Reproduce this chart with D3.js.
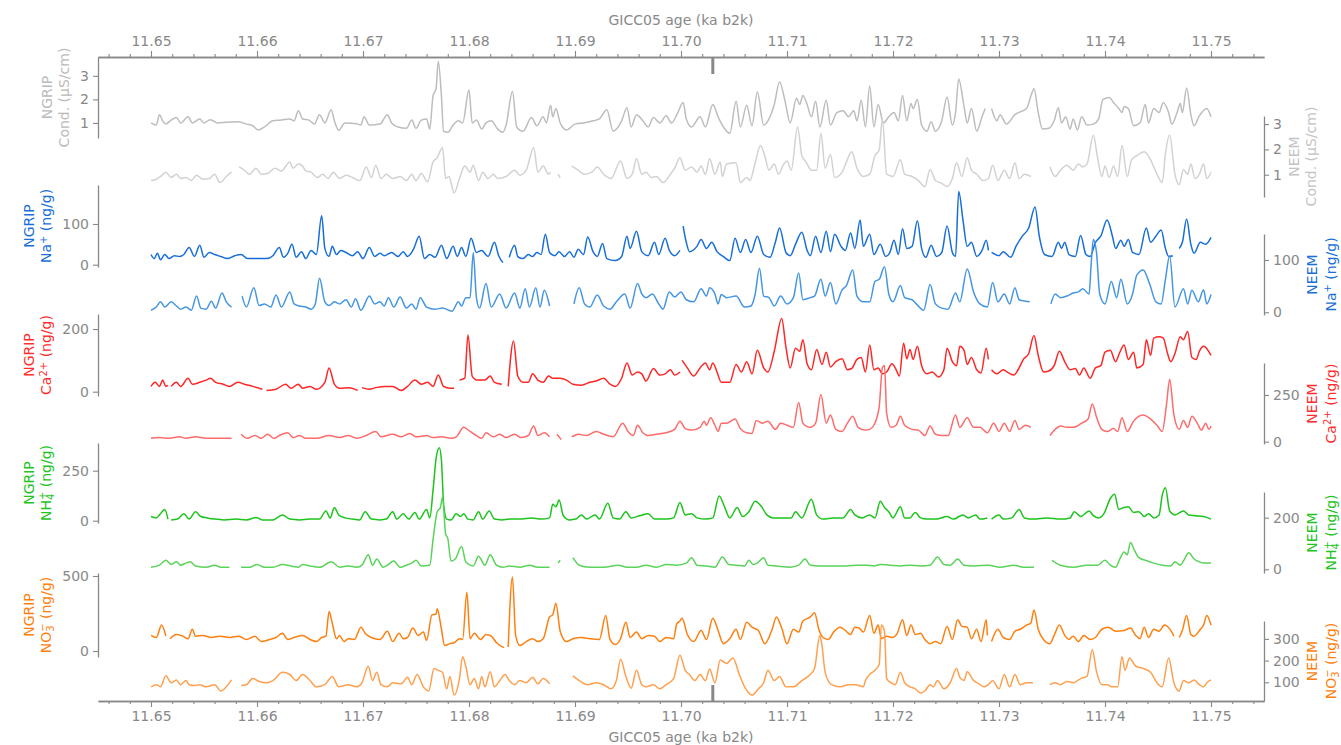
<!DOCTYPE html>
<html>
<head>
<meta charset="utf-8">
<script src="https://cdn.jsdelivr.net/npm/d3@7"></script>
<style>
  body { margin: 0; background: #fff; }
  svg { font-family: "DejaVu Sans", sans-serif; }
</style>
</head>
<body>
<svg id="chart" width="1341" height="745"></svg>
<script>
// ages in years b2k (GICC05); null = gap
const ngripCond = [[11650.0,1.0],[11650.5,0.91],[11650.8,1.35],[11651.1,1.09],[11651.4,0.95],[11651.9,1.12],[11652.4,1.23],[11652.8,1.0],[11653.5,1.26],[11653.9,1.0],[11654.6,1.17],[11655.0,1.0],[11655.6,1.14],[11656.3,1.0],[11657.1,1.03],[11658.2,1.05],[11659.0,0.95],[11659.6,0.88],[11660.1,0.70],[11660.7,0.83],[11661.5,1.09],[11662.3,1.12],[11663.1,1.17],[11663.5,1.09],[11663.9,1.52],[11664.3,1.17],[11664.9,1.12],[11665.4,0.95],[11665.9,1.35],[11666.4,1.0],[11667.0,1.56],[11667.3,1.09],[11667.7,0.69],[11668.3,1.0],[11669.4,0.97],[11669.8,0.91],[11670.1,1.26],[11670.6,0.91],[11671.6,0.95],[11672.3,1.35],[11672.7,1.0],[11673.3,0.83],[11674.1,0.77],[11674.6,1.12],[11675.0,0.77],[11675.5,1.12],[11676.0,1.17],[11676.3,0.74],[11676.6,2.13],[11676.9,2.48],[11677.1,3.62],[11677.4,2.13],[11677.6,0.65],[11678.0,0.6],[11678.5,0.91],[11679.0,1.09],[11679.4,1.0],[11680.0,2.4],[11680.3,1.0],[11680.7,1.12],[11681.2,0.74],[11681.6,1.0],[11682.1,1.09],[11682.7,0.74],[11683.2,0.6],[11683.5,0.91],[11684.1,2.34],[11684.5,0.83],[11685.1,0.65],[11685.9,1.23],[11686.4,0.88],[11687.0,1.26],[11687.3,1.0],[11687.7,1.75],[11687.9,1.26],[11688.2,1.61],[11688.6,1.0],[11689.2,0.70],[11690.0,0.95],[11690.8,1.0],[11691.7,1.09],[11692.3,1.17],[11693.0,1.56],[11693.6,0.65],[11694.4,1.09],[11694.9,1.65],[11695.3,0.83],[11695.8,1.35],[11696.4,1.09],[11696.9,0.83],[11697.4,1.23],[11698.0,1.0],[11698.6,1.30],[11699.1,1.0],[11699.7,1.44],[11700.2,1.87],[11700.5,1.17],[11701.0,0.83],[11701.8,1.26],[11702.3,0.83],[11703.0,1.78],[11703.5,1.26],[11704.0,0.83],[11704.6,0.56],[11705.2,1.92],[11705.6,0.83],[11706.2,1.75],[11706.7,0.88],[11707.2,2.31],[11707.8,0.91],[11708.2,1.09],[11708.8,1.78],[11709.3,2.74],[11709.8,1.96],[11710.3,1.0],[11710.9,2.05],[11711.2,1.78],[11711.5,2.17],[11711.9,1.78],[11712.3,1.26],[11712.7,1.92],[11713.1,0.83],[11713.7,1.96],[11714.1,0.91],[11714.7,1.44],[11715.3,1.52],[11715.8,1.26],[11716.3,1.52],[11716.6,1.09],[11717.0,1.96],[11717.4,0.83],[11717.8,2.57],[11718.2,0.83],[11718.6,1.78],[11719.1,1.0],[11719.6,1.26],[11720.1,1.44],[11720.5,1.09],[11720.9,2.17],[11721.3,1.09],[11721.7,1.82],[11721.9,1.61],[11722.3,1.99],[11722.7,0.91],[11723.2,0.65],[11723.6,1.05],[11724.0,0.65],[11724.6,1.09],[11725.1,2.10],[11725.6,0.91],[11725.9,1.44],[11726.2,2.87],[11726.7,1.70],[11727.0,1.0],[11727.4,1.61],[11727.9,0.65],[11728.4,1.26],[11728.7,1.61],[11728.9,null],[11729.3,1.61],[11729.8,1.09],[11730.1,1.35],[11730.7,0.95],[11731.5,1.35],[11732.0,1.47],[11732.6,1.61],[11733.0,2.13],[11733.3,2.45],[11733.7,1.44],[11734.1,0.74],[11734.7,0.77],[11735.2,1.09],[11735.6,1.65],[11735.9,1.0],[11736.3,1.26],[11736.7,0.74],[11737.0,1.17],[11737.4,0.70],[11737.8,1.26],[11738.3,0.91],[11738.9,0.95],[11739.4,1.17],[11739.8,1.99],[11740.4,2.08],[11740.8,1.87],[11741.3,1.61],[11741.6,1.44],[11741.8,1.70],[11742.2,1.61],[11742.7,0.88],[11743.3,1.0],[11743.8,1.78],[11744.1,1.0],[11744.6,1.61],[11745.1,1.44],[11745.5,1.87],[11746.0,1.44],[11746.3,0.95],[11746.8,1.44],[11747.1,1.82],[11747.3,1.44],[11747.7,2.48],[11748.1,1.35],[11748.4,0.88],[11748.9,1.30],[11749.6,1.61],[11750.0,1.26]];

const neemCond = [[11650.0,0.77],[11650.5,0.82],[11650.9,0.93],[11651.4,1.10],[11651.9,0.89],[11652.4,1.02],[11652.8,0.85],[11653.3,0.89],[11653.8,0.77],[11654.3,0.98],[11654.9,0.82],[11655.5,0.85],[11656.0,1.02],[11656.5,0.69],[11657.1,0.93],[11657.6,1.10],[11657.9,null],[11658.3,1.31],[11658.8,1.18],[11659.3,1.02],[11659.9,1.26],[11660.4,1.02],[11661.0,1.05],[11661.7,1.26],[11662.3,1.15],[11663.1,1.50],[11663.4,1.26],[11663.9,1.42],[11664.3,1.34],[11664.6,1.15],[11665.1,1.10],[11665.7,0.89],[11666.2,1.02],[11666.7,0.85],[11667.2,1.10],[11667.8,0.85],[11668.4,0.98],[11669.0,0.89],[11669.7,0.77],[11670.3,1.31],[11670.8,0.89],[11671.2,1.37],[11671.7,0.85],[11672.2,1.02],[11672.8,0.85],[11673.5,0.93],[11674.1,0.77],[11674.6,1.02],[11675.0,0.77],[11675.5,1.05],[11676.1,0.72],[11676.6,1.50],[11677.0,1.67],[11677.5,2.07],[11677.8,0.85],[11678.1,0.93],[11678.6,0.28],[11679.1,0.85],[11679.6,1.34],[11680.1,1.10],[11680.4,1.37],[11680.9,0.77],[11681.3,1.10],[11681.8,0.85],[11682.3,1.02],[11682.7,0.85],[11683.5,0.93],[11684.3,1.18],[11684.8,0.98],[11685.4,1.18],[11686.1,2.07],[11686.5,1.10],[11687.0,1.34],[11687.5,1.02],[11687.7,1.10],[11687.9,null],[11688.4,1.02],[11688.6,0.89],[11688.8,null],[11689.7,1.34],[11690.3,1.18],[11690.9,1.02],[11691.6,1.10],[11692.1,1.31],[11692.7,1.02],[11693.4,0.85],[11694.3,1.54],[11694.9,0.85],[11695.4,1.02],[11695.8,1.63],[11696.3,1.02],[11696.7,1.10],[11697.2,0.89],[11697.7,0.93],[11698.3,0.69],[11699.0,1.02],[11699.4,1.26],[11699.9,1.67],[11700.4,1.18],[11701.0,1.31],[11701.5,1.10],[11701.9,1.34],[11702.3,1.02],[11702.7,1.63],[11703.2,1.02],[11703.7,1.50],[11703.9,0.93],[11704.3,1.42],[11705.2,1.47],[11705.6,0.69],[11706.2,0.89],[11706.5,0.77],[11707.0,1.47],[11707.5,2.15],[11707.9,1.75],[11708.3,1.18],[11708.8,1.42],[11709.2,1.02],[11709.7,1.42],[11710.0,1.54],[11710.4,1.18],[11711.0,2.89],[11711.4,1.75],[11711.8,1.50],[11712.3,1.18],[11712.8,1.18],[11713.2,2.64],[11713.6,1.26],[11714.1,1.80],[11714.5,0.89],[11715.2,1.10],[11715.6,1.50],[11716.1,1.91],[11716.6,1.26],[11717.2,0.93],[11717.8,1.02],[11718.3,1.75],[11718.7,1.99],[11719.0,3.21],[11719.4,1.02],[11720.0,0.93],[11720.7,1.59],[11721.1,1.02],[11721.8,0.93],[11722.4,0.77],[11723.0,0.53],[11723.5,1.21],[11724.0,0.77],[11724.6,0.66],[11725.1,0.53],[11725.6,0.85],[11726.0,1.47],[11726.5,0.93],[11727.0,1.67],[11727.4,1.18],[11727.9,1.02],[11728.5,0.77],[11729.0,0.85],[11729.4,1.37],[11729.9,0.77],[11730.5,1.18],[11731.0,0.85],[11731.5,1.47],[11731.9,0.85],[11732.4,1.02],[11733.0,0.93],[11733.9,null],[11734.8,1.31],[11735.3,0.93],[11735.8,1.18],[11736.4,1.37],[11737.0,1.18],[11737.5,1.42],[11737.9,1.31],[11738.3,1.42],[11738.9,2.56],[11739.3,1.67],[11739.7,0.93],[11740.0,1.34],[11740.4,0.89],[11740.8,1.34],[11741.2,0.93],[11741.6,2.15],[11742.1,0.93],[11742.5,1.59],[11743.0,1.75],[11743.7,1.91],[11744.3,1.59],[11744.9,1.02],[11745.4,0.69],[11745.7,1.83],[11746.1,2.56],[11746.6,1.02],[11747.0,0.61],[11747.4,1.21],[11747.8,1.02],[11748.1,1.42],[11748.5,0.85],[11748.9,1.02],[11749.3,1.42],[11749.6,0.85],[11750.0,1.10]];

const ngripNa = [[11650.0,25],[11650.3,15],[11650.6,28],[11650.9,12],[11651.3,25],[11651.7,15],[11652.2,22],[11652.7,20],[11653.1,25],[11653.6,42],[11654.1,20],[11654.6,48],[11655.0,18],[11655.5,30],[11656.0,25],[11656.6,20],[11657.2,15],[11657.9,22],[11658.5,25],[11659.1,15],[11659.9,15],[11660.9,15],[11661.5,22],[11662.1,42],[11662.5,18],[11662.9,28],[11663.3,50],[11663.7,18],[11664.2,32],[11664.6,15],[11665.1,35],[11665.6,25],[11666.1,120],[11666.4,40],[11666.8,20],[11667.1,45],[11667.5,25],[11667.9,35],[11668.4,30],[11669.0,22],[11669.5,32],[11670.0,15],[11670.6,42],[11671.1,20],[11671.6,28],[11672.0,22],[11672.7,30],[11673.3,20],[11673.8,32],[11674.2,20],[11674.8,40],[11675.3,70],[11675.8,15],[11676.3,25],[11676.8,18],[11677.4,48],[11677.9,15],[11678.5,45],[11678.9,20],[11679.3,42],[11679.7,20],[11680.2,65],[11680.7,30],[11681.2,35],[11681.8,20],[11682.4,55],[11682.8,22],[11683.2,5],[11683.4,null],[11683.8,18],[11684.3,48],[11684.6,20],[11685.1,15],[11685.6,25],[11686.0,20],[11686.4,30],[11686.8,25],[11687.2,75],[11687.6,30],[11688.1,22],[11688.5,32],[11689.0,20],[11689.5,32],[11689.9,18],[11690.3,38],[11690.8,25],[11691.2,68],[11691.7,32],[11692.1,20],[11692.6,52],[11693.0,15],[11693.8,10],[11694.4,20],[11694.9,70],[11695.2,40],[11695.8,82],[11696.3,32],[11696.9,22],[11697.5,55],[11697.9,25],[11698.5,65],[11698.9,35],[11699.4,22],[11699.9,35],[11700.0,null],[11700.2,95],[11700.5,55],[11700.8,32],[11701.5,45],[11701.9,62],[11702.4,40],[11702.9,55],[11703.4,32],[11704.0,20],[11704.6,10],[11705.1,65],[11705.6,30],[11706.1,62],[11706.6,30],[11707.2,70],[11707.8,25],[11708.4,18],[11708.9,55],[11709.3,90],[11709.9,30],[11710.3,22],[11710.8,50],[11711.4,80],[11711.9,35],[11712.2,22],[11712.7,70],[11713.2,30],[11713.7,82],[11714.1,32],[11714.5,75],[11715.1,45],[11715.5,35],[11716.0,78],[11716.4,40],[11716.9,110],[11717.2,45],[11717.8,75],[11718.2,25],[11718.8,50],[11719.3,20],[11719.7,30],[11720.1,60],[11720.5,25],[11720.9,88],[11721.3,40],[11721.8,45],[11722.3,108],[11722.7,40],[11723.1,18],[11723.6,48],[11724.1,20],[11724.6,30],[11725.1,95],[11725.6,30],[11725.9,20],[11726.2,180],[11726.6,110],[11727.0,45],[11727.4,55],[11727.9,20],[11728.4,35],[11728.8,60],[11729.0,35],[11729.2,null],[11729.3,30],[11730.0,22],[11730.4,32],[11731.1,18],[11731.6,45],[11732.2,70],[11732.8,90],[11733.4,142],[11733.8,70],[11734.3,25],[11735.0,20],[11735.6,55],[11735.9,40],[11736.2,55],[11736.6,25],[11737.2,20],[11737.7,72],[11738.2,25],[11738.6,20],[11739.1,55],[11739.6,70],[11740.2,110],[11740.7,70],[11741.0,40],[11741.5,60],[11741.8,45],[11742.2,62],[11742.6,30],[11743.2,25],[11743.9,90],[11744.3,55],[11744.8,70],[11745.3,85],[11745.7,40],[11746.0,20],[11746.4,22],[11746.7,null],[11747.0,40],[11747.3,55],[11747.7,112],[11748.1,50],[11748.4,28],[11749.0,55],[11749.5,50],[11750.0,67]];

const neemNa = [[11650.0,4],[11650.5,10],[11650.9,20],[11651.3,10],[11651.9,20],[11652.4,12],[11652.8,6],[11653.3,10],[11653.8,4],[11654.3,31],[11654.7,8],[11655.2,6],[11655.7,21],[11656.1,8],[11656.7,37],[11657.1,20],[11657.6,10],[11657.9,null],[11658.6,31],[11659.0,10],[11659.7,47],[11660.2,13],[11660.7,16],[11661.3,10],[11661.8,33],[11662.3,10],[11663.1,39],[11663.5,16],[11664.0,12],[11664.6,10],[11665.1,6],[11665.5,16],[11665.9,65],[11666.4,20],[11666.8,13],[11667.3,20],[11667.8,16],[11668.4,24],[11668.9,10],[11669.3,26],[11669.8,4],[11670.6,31],[11671.1,16],[11671.6,20],[11672.0,12],[11672.4,28],[11672.9,10],[11673.5,29],[11674.1,8],[11674.6,16],[11675.0,6],[11675.4,28],[11676.0,10],[11676.8,6],[11677.5,8],[11678.4,2],[11679.0,20],[11679.3,12],[11679.7,28],[11680.1,28],[11680.4,114],[11680.7,28],[11681.0,8],[11681.6,55],[11682.1,10],[11682.9,35],[11683.5,8],[11684.3,37],[11684.8,8],[11685.3,45],[11685.7,10],[11686.3,47],[11686.7,10],[11687.1,42],[11687.6,12],[11688.5,null],[11689.9,16],[11690.4,47],[11690.9,16],[11691.4,10],[11692.1,33],[11692.7,12],[11693.3,6],[11693.9,20],[11694.7,35],[11695.2,8],[11695.9,55],[11696.3,35],[11696.7,28],[11697.3,35],[11697.9,16],[11698.3,6],[11698.9,39],[11699.4,29],[11700.0,39],[11700.5,24],[11701.2,20],[11701.9,45],[11702.4,31],[11702.7,47],[11703.2,35],[11703.5,16],[11703.8,34],[11704.3,28],[11705.2,31],[11706.0,10],[11706.6,12],[11707.0,35],[11707.4,84],[11707.8,31],[11708.3,28],[11708.8,12],[11709.4,31],[11710.0,16],[11710.6,28],[11711.1,75],[11711.5,24],[11712.2,28],[11712.6,31],[11713.2,63],[11713.6,31],[11714.1,57],[11714.6,16],[11715.2,43],[11715.6,51],[11716.2,81],[11716.6,31],[11717.2,20],[11717.8,20],[11718.3,59],[11718.7,63],[11719.2,87],[11719.6,35],[11720.0,20],[11720.7,51],[11721.1,28],[11721.8,24],[11722.2,16],[11722.9,4],[11723.5,53],[11724.0,16],[11724.6,8],[11725.2,6],[11725.9,37],[11726.3,20],[11727.0,83],[11727.6,39],[11728.2,16],[11728.9,10],[11729.4,57],[11729.9,20],[11730.5,35],[11731.0,16],[11731.5,47],[11731.9,24],[11732.5,21],[11732.9,20],[11733.9,null],[11734.9,16],[11735.3,35],[11735.8,28],[11736.4,31],[11737.0,37],[11737.5,39],[11737.9,45],[11738.5,35],[11738.7,94],[11738.9,139],[11739.2,114],[11739.5,35],[11740.0,16],[11740.6,59],[11741.1,28],[11741.5,63],[11742.1,16],[11742.6,35],[11743.0,71],[11743.6,81],[11744.2,55],[11744.8,20],[11745.3,16],[11745.7,63],[11746.1,108],[11746.6,10],[11747.4,45],[11747.8,16],[11748.2,42],[11748.8,20],[11749.3,43],[11749.6,16],[11750.0,34]];

const ngripCa = [[11650.0,17],[11650.4,30],[11650.8,17],[11651.1,37],[11651.4,17],[11651.6,20],[11651.8,null],[11651.9,17],[11652.4,30],[11652.8,17],[11653.5,43],[11653.9,24],[11654.6,30],[11655.2,37],[11655.6,43],[11656.1,30],[11656.8,24],[11657.4,17],[11658.2,30],[11658.8,24],[11659.6,17],[11660.5,8],[11660.7,null],[11660.9,4],[11661.8,8],[11662.7,24],[11663.2,11],[11663.9,24],[11664.3,11],[11665.0,17],[11665.6,8],[11666.4,30],[11666.8,76],[11667.3,24],[11667.8,11],[11668.7,13],[11669.5,4],[11669.8,null],[11669.9,13],[11670.6,8],[11671.2,13],[11672.1,17],[11672.8,17],[11673.6,4],[11674.2,17],[11674.9,37],[11675.5,24],[11676.1,30],[11676.6,17],[11677.1,53],[11677.6,17],[11678.2,11],[11678.6,11],[11678.9,null],[11679.1,37],[11679.6,43],[11679.9,181],[11680.3,50],[11680.8,37],[11681.5,37],[11682.0,50],[11682.4,30],[11683.1,24],[11683.4,null],[11683.7,17],[11684.2,162],[11684.6,50],[11685.1,30],[11685.6,30],[11686.0,57],[11686.5,37],[11687.0,30],[11687.5,50],[11687.9,43],[11688.6,43],[11689.2,37],[11689.8,24],[11690.6,21],[11691.4,30],[11692.0,34],[11692.7,43],[11693.3,24],[11693.8,17],[11694.4,43],[11694.9,92],[11695.4,53],[11695.9,63],[11696.3,57],[11696.7,34],[11697.4,74],[11698.0,53],[11698.5,57],[11699.0,70],[11699.4,53],[11699.9,63],[11700.0,null],[11700.1,100],[11700.6,76],[11701.2,50],[11701.8,76],[11702.3,92],[11702.7,70],[11703.0,92],[11703.4,63],[11703.8,30],[11704.6,30],[11705.2,87],[11705.7,63],[11706.2,96],[11706.7,57],[11707.2,132],[11707.8,76],[11708.2,63],[11708.8,129],[11709.5,234],[11709.9,142],[11710.3,76],[11710.8,139],[11711.2,129],[11711.5,166],[11711.9,89],[11712.3,70],[11712.8,135],[11713.3,87],[11713.7,126],[11714.1,79],[11714.6,96],[11715.2,105],[11715.7,70],[11716.1,74],[11716.6,103],[11717.0,109],[11717.4,63],[11717.8,149],[11718.2,70],[11718.6,76],[11719.0,57],[11719.4,63],[11719.9,89],[11720.3,70],[11720.6,50],[11721.0,155],[11721.3,105],[11721.6,135],[11721.9,103],[11722.3,145],[11722.7,83],[11723.2,57],[11723.7,63],[11724.3,47],[11724.8,70],[11725.1,139],[11725.6,96],[11726.0,83],[11726.3,145],[11726.7,132],[11727.0,87],[11727.4,109],[11727.9,70],[11728.3,60],[11728.8,139],[11729.0,103],[11729.2,null],[11729.3,70],[11729.8,57],[11730.4,70],[11730.9,60],[11731.4,53],[11731.8,70],[11732.3,103],[11732.8,122],[11733.3,179],[11733.7,116],[11734.2,63],[11734.7,66],[11735.2,83],[11735.7,129],[11736.2,96],[11736.7,70],[11737.2,74],[11737.6,53],[11738.0,76],[11738.6,43],[11739.1,76],[11739.6,83],[11740.0,126],[11740.5,132],[11741.0,96],[11741.4,126],[11741.8,149],[11742.2,103],[11742.7,126],[11743.0,76],[11743.6,87],[11743.9,166],[11744.3,116],[11744.6,171],[11745.1,175],[11745.5,171],[11745.9,122],[11746.2,96],[11746.6,122],[11747.1,175],[11747.4,166],[11747.8,192],[11748.2,109],[11748.6,103],[11748.9,129],[11749.3,145],[11750.0,116]];

const neemCa = [[11650.0,18],[11650.8,22],[11651.7,18],[11652.7,26],[11653.3,18],[11654.2,26],[11655.2,18],[11656.5,18],[11657.6,18],[11657.9,null],[11658.5,40],[11659.1,18],[11659.8,33],[11660.4,18],[11661.0,40],[11661.6,18],[11662.1,33],[11662.9,48],[11663.4,22],[11664.0,33],[11664.6,18],[11665.6,18],[11666.8,33],[11667.8,22],[11668.6,33],[11669.4,18],[11670.3,33],[11671.2,55],[11671.7,26],[11672.8,40],[11673.6,26],[11674.4,44],[11675.0,26],[11676.0,33],[11676.6,22],[11677.4,26],[11678.3,18],[11678.8,26],[11679.5,77],[11680.1,55],[11680.7,33],[11681.2,18],[11681.6,48],[11682.3,26],[11682.9,40],[11683.5,22],[11684.3,40],[11684.9,22],[11685.6,33],[11686.1,84],[11686.5,33],[11687.1,48],[11687.6,26],[11688.0,null],[11688.3,40],[11688.7,11],[11688.9,null],[11689.7,26],[11690.3,40],[11691.1,33],[11692.0,55],[11692.7,40],[11693.6,26],[11694.5,99],[11695.0,55],[11695.5,33],[11695.9,88],[11696.4,48],[11696.9,33],[11697.7,40],[11698.6,48],[11699.4,66],[11699.9,110],[11700.4,70],[11701.0,62],[11701.8,77],[11702.2,110],[11702.4,88],[11702.8,128],[11703.2,88],[11703.5,55],[11703.8,99],[11704.3,99],[11705.1,121],[11705.6,70],[11706.2,48],[11706.7,44],[11707.1,114],[11707.7,99],[11708.2,110],[11708.9,66],[11709.4,99],[11710.0,88],[11710.6,77],[11711.1,209],[11711.5,99],[11712.2,77],[11712.7,99],[11713.2,253],[11713.7,99],[11714.1,143],[11714.6,66],[11715.2,55],[11715.7,99],[11716.2,136],[11716.7,77],[11717.4,62],[11717.8,66],[11718.2,88],[11718.5,132],[11718.7,187],[11719.0,396],[11719.2,407],[11719.4,154],[11719.8,77],[11720.3,88],[11720.7,136],[11721.1,88],[11721.8,66],[11722.4,62],[11723.0,33],[11723.5,84],[11724.0,40],[11724.6,33],[11725.2,33],[11725.9,143],[11726.3,77],[11727.0,128],[11727.6,77],[11728.2,77],[11728.9,48],[11729.5,99],[11730.0,55],[11730.5,99],[11731.0,55],[11731.5,114],[11731.9,66],[11732.5,88],[11733.0,77],[11733.9,null],[11734.8,33],[11735.3,66],[11735.8,84],[11736.4,77],[11737.0,77],[11737.8,99],[11738.4,121],[11738.8,202],[11739.2,132],[11739.7,66],[11740.2,55],[11740.8,70],[11741.2,55],[11741.6,128],[11742.1,55],[11742.7,110],[11743.6,143],[11744.3,121],[11744.9,88],[11745.4,55],[11745.8,198],[11746.1,334],[11746.5,143],[11747.0,66],[11747.4,114],[11747.8,77],[11748.2,136],[11748.7,99],[11749.1,62],[11749.5,99],[11749.8,66],[11750.0,84]];

const ngripNH4 = [[11650.0,21],[11650.5,14],[11650.8,29],[11651.3,56],[11651.6,8],[11651.8,null],[11651.9,4],[11652.5,8],[11653.1,35],[11653.6,8],[11654.2,45],[11654.7,21],[11655.3,14],[11656.0,8],[11656.9,4],[11658.0,8],[11659.0,4],[11659.9,16],[11660.5,4],[11661.5,4],[11662.4,29],[11663.1,8],[11664.0,4],[11665.0,8],[11665.9,8],[11666.5,49],[11666.9,14],[11667.3,66],[11667.7,29],[11668.3,14],[11669.0,8],[11669.7,4],[11670.2,45],[11670.8,8],[11671.6,4],[11672.2,8],[11672.8,45],[11673.2,8],[11673.8,35],[11674.3,8],[11674.9,41],[11675.3,8],[11676.0,56],[11676.3,14],[11676.6,148],[11676.9,313],[11677.2,365],[11677.4,303],[11677.6,87],[11677.9,8],[11678.3,4],[11678.8,35],[11679.2,21],[11679.5,35],[11679.9,8],[11680.4,4],[11680.9,45],[11681.3,8],[11681.9,49],[11682.4,8],[11683.1,4],[11683.8,8],[11684.8,8],[11685.9,14],[11686.8,8],[11687.6,14],[11687.9,82],[11688.2,70],[11688.5,103],[11688.9,25],[11689.5,4],[11690.1,8],[11690.6,29],[11691.1,8],[11691.9,29],[11692.3,8],[11693.1,87],[11693.6,14],[11694.2,8],[11694.8,45],[11695.3,14],[11696.1,25],[11696.9,35],[11697.5,8],[11698.6,8],[11699.3,14],[11699.9,91],[11700.4,29],[11701.0,35],[11701.5,14],[11702.3,8],[11703.0,14],[11703.6,124],[11704.1,70],[11704.6,14],[11705.3,66],[11705.8,21],[11706.4,45],[11707.0,97],[11707.6,70],[11708.1,29],[11708.7,14],[11709.8,14],[11710.4,14],[11710.8,45],[11711.4,14],[11712.3,107],[11712.8,29],[11713.4,8],[11714.4,14],[11715.3,14],[11716.0,56],[11716.4,29],[11717.1,14],[11717.8,29],[11718.3,14],[11718.8,97],[11719.2,66],[11719.6,45],[11720.0,14],[11720.7,70],[11721.1,14],[11721.6,14],[11722.1,41],[11722.6,14],[11723.2,8],[11724.1,8],[11725.1,21],[11725.7,8],[11726.6,29],[11727.1,14],[11727.8,29],[11728.2,8],[11728.9,14],[11729.1,null],[11729.3,8],[11730.0,29],[11730.4,8],[11731.2,14],[11731.9,56],[11732.4,14],[11733.3,8],[11734.5,14],[11735.8,8],[11736.7,14],[11737.1,45],[11737.7,21],[11738.5,49],[11738.9,25],[11739.4,14],[11739.9,35],[11740.5,111],[11740.9,132],[11741.3,56],[11741.8,66],[11742.2,70],[11742.7,41],[11743.2,45],[11743.7,21],[11744.1,35],[11744.6,14],[11745.1,29],[11745.4,128],[11745.7,165],[11746.1,49],[11746.6,29],[11747.4,49],[11747.9,29],[11748.5,25],[11749.3,21],[11750.0,8]];

const neemNH4 = [[11650.0,8],[11650.8,16],[11651.4,35],[11651.9,19],[11652.4,29],[11652.8,16],[11653.3,24],[11653.7,29],[11654.2,13],[11655.2,8],[11656.0,16],[11656.6,8],[11657.4,8],[11657.9,null],[11658.5,8],[11659.3,8],[11660.0,19],[11660.7,8],[11661.5,8],[11662.4,19],[11663.2,13],[11663.9,8],[11664.3,19],[11665.0,13],[11665.9,8],[11667.0,29],[11667.8,8],[11668.6,13],[11669.4,8],[11669.9,16],[11670.5,56],[11670.9,16],[11671.3,40],[11671.9,8],[11672.3,16],[11672.9,32],[11673.5,8],[11674.1,16],[11674.6,24],[11675.0,35],[11675.5,13],[11676.3,16],[11676.6,112],[11677.0,223],[11677.3,239],[11677.5,279],[11677.8,136],[11678.0,120],[11678.3,32],[11678.7,40],[11679.3,88],[11679.7,29],[11680.4,13],[11680.9,51],[11681.5,16],[11682.0,56],[11682.6,16],[11683.2,8],[11683.8,13],[11684.8,8],[11685.7,16],[11686.5,8],[11687.3,8],[11687.6,8],[11688.0,null],[11688.4,24],[11688.6,35],[11688.9,null],[11689.8,45],[11690.4,16],[11691.4,8],[11692.7,8],[11694.1,16],[11694.9,8],[11695.8,8],[11696.7,16],[11697.7,8],[11698.6,19],[11699.6,16],[11700.5,24],[11701.0,45],[11701.5,16],[11702.4,13],[11703.2,8],[11703.9,48],[11704.5,19],[11705.2,16],[11706.0,13],[11706.4,35],[11706.8,19],[11707.2,24],[11707.8,45],[11708.2,16],[11709.0,13],[11710.3,8],[11711.1,16],[11711.7,40],[11712.2,16],[11713.1,13],[11714.4,13],[11715.6,13],[11716.6,16],[11717.5,16],[11718.2,13],[11718.8,19],[11719.7,16],[11720.7,13],[11721.6,16],[11722.6,13],[11723.5,16],[11724.2,48],[11724.8,19],[11725.4,16],[11726.1,40],[11726.7,16],[11727.6,13],[11729.0,16],[11730.1,8],[11731.4,16],[11732.3,8],[11733.3,8],[11734.0,null],[11735.0,35],[11735.8,16],[11737.0,8],[11738.3,16],[11739.3,16],[11740.0,35],[11740.5,16],[11741.0,8],[11741.4,40],[11741.8,67],[11742.1,56],[11742.4,104],[11742.8,72],[11743.2,45],[11743.8,35],[11744.6,24],[11745.4,16],[11746.2,13],[11746.6,29],[11747.1,16],[11747.4,32],[11747.9,64],[11748.4,40],[11748.9,29],[11749.3,24],[11750.0,24]];

const ngripNO3 = [[11650.0,104],[11650.5,90],[11651.0,173],[11651.4,99],[11651.7,null],[11651.8,82],[11652.4,110],[11653.0,99],[11653.5,82],[11653.9,145],[11654.2,99],[11654.9,104],[11655.7,90],[11656.5,99],[11657.4,90],[11658.3,99],[11659.0,77],[11659.8,99],[11660.4,63],[11661.2,77],[11661.8,90],[11662.4,118],[11662.9,77],[11663.5,90],[11664.3,104],[11665.0,77],[11665.6,63],[11666.1,90],[11666.5,99],[11666.8,263],[11667.1,186],[11667.5,82],[11667.8,104],[11668.2,63],[11668.6,82],[11669.2,77],[11669.8,159],[11670.2,118],[11670.8,90],[11671.6,77],[11672.3,132],[11672.8,63],[11673.4,118],[11673.8,82],[11674.2,90],[11674.7,153],[11675.2,104],[11675.7,126],[11676.0,71],[11676.5,241],[11676.9,247],[11677.0,282],[11677.4,145],[11677.7,36],[11678.2,49],[11678.6,55],[11679.1,82],[11679.4,77],[11679.8,392],[11680.1,82],[11680.5,118],[11681.1,77],[11681.6,110],[11682.1,99],[11682.6,55],[11683.3,22],[11683.5,null],[11683.7,27],[11684.1,493],[11684.4,104],[11684.8,36],[11685.4,63],[11686.0,82],[11686.5,63],[11687.0,82],[11687.6,227],[11687.9,241],[11688.2,318],[11688.6,132],[11689.2,63],[11689.8,82],[11690.6,90],[11691.4,82],[11692.3,77],[11692.9,236],[11693.3,77],[11693.8,44],[11694.3,82],[11694.8,192],[11695.2,90],[11695.8,126],[11696.3,82],[11696.9,104],[11697.5,99],[11698.0,63],[11698.6,90],[11699.3,82],[11699.6,181],[11699.9,200],[11700.1,219],[11700.6,110],[11701.2,63],[11701.9,137],[11702.4,77],[11703.0,219],[11703.5,137],[11704.0,49],[11704.6,82],[11705.2,145],[11705.6,77],[11706.2,192],[11706.7,159],[11707.3,137],[11707.9,49],[11708.6,145],[11709.0,227],[11709.5,153],[11710.0,49],[11710.6,145],[11711.1,126],[11711.5,200],[11712.2,227],[11712.6,255],[11713.0,145],[11713.4,90],[11713.9,77],[11714.4,126],[11715.0,159],[11715.5,137],[11716.0,110],[11716.4,159],[11716.8,153],[11717.2,126],[11717.8,236],[11718.2,118],[11718.6,173],[11718.9,82],[11719.4,99],[11719.9,90],[11720.4,118],[11720.9,208],[11721.3,104],[11721.7,173],[11722.1,110],[11722.6,118],[11723.0,77],[11723.5,49],[11724.0,63],[11724.5,49],[11725.1,164],[11725.6,77],[11726.1,208],[11726.5,164],[11727.0,159],[11727.4,82],[11727.9,145],[11728.3,63],[11728.8,208],[11728.9,104],[11729.1,null],[11729.3,63],[11729.9,145],[11730.4,90],[11731.0,77],[11731.5,132],[11732.0,145],[11732.6,173],[11733.0,186],[11733.3,274],[11733.7,145],[11734.2,77],[11734.8,49],[11735.2,104],[11735.7,173],[11736.2,104],[11736.6,77],[11737.0,99],[11737.5,63],[11738.0,104],[11738.6,77],[11739.1,90],[11739.7,145],[11740.3,159],[11741.0,132],[11741.8,137],[11742.4,153],[11742.9,104],[11743.3,82],[11743.7,159],[11744.1,90],[11744.6,145],[11745.1,132],[11745.6,173],[11746.2,137],[11746.5,99],[11746.7,null],[11747.0,90],[11747.3,137],[11747.7,236],[11748.1,110],[11748.4,99],[11749.0,145],[11749.3,173],[11749.6,236],[11750.0,173]];

const neemNO3 = [[11650.0,79],[11650.5,89],[11650.9,79],[11651.4,130],[11651.9,98],[11652.4,111],[11652.8,89],[11653.3,108],[11653.6,89],[11654.1,85],[11654.6,89],[11655.2,79],[11656.0,89],[11656.6,60],[11657.1,79],[11657.6,111],[11657.9,null],[11658.5,85],[11659.0,89],[11659.6,117],[11660.2,104],[11660.9,98],[11661.5,108],[11662.4,146],[11663.1,136],[11663.7,108],[11664.3,136],[11665.0,108],[11665.6,79],[11666.4,89],[11667.1,127],[11667.7,79],[11668.6,89],[11669.4,79],[11669.9,98],[11670.5,174],[11670.9,108],[11671.3,146],[11671.7,89],[11672.3,79],[11672.8,98],[11673.6,93],[11674.2,123],[11674.6,89],[11675.1,136],[11675.7,79],[11676.2,60],[11676.7,164],[11677.1,155],[11677.5,146],[11677.9,70],[11678.2,127],[11678.6,41],[11679.1,117],[11679.4,218],[11679.7,174],[11680.1,89],[11680.5,117],[11680.9,70],[11681.2,127],[11681.5,79],[11682.0,149],[11682.4,79],[11682.9,108],[11683.4,136],[11683.8,108],[11684.3,89],[11684.8,108],[11685.4,98],[11686.0,123],[11686.5,93],[11687.0,117],[11687.6,93],[11688.2,null],[11689.8,130],[11690.4,108],[11691.2,89],[11692.0,98],[11692.7,89],[11693.4,70],[11693.9,108],[11694.3,206],[11694.8,127],[11695.3,73],[11695.8,155],[11696.3,89],[11696.7,79],[11697.4,89],[11698.0,70],[11698.6,89],[11699.3,117],[11699.9,225],[11700.4,155],[11700.8,136],[11701.3,108],[11701.8,136],[11702.3,108],[11702.7,161],[11703.2,98],[11703.7,203],[11704.3,187],[11704.9,212],[11705.5,136],[11706.0,79],[11706.7,41],[11707.3,70],[11707.8,98],[11708.2,155],[11708.8,108],[11709.3,127],[11709.9,79],[11710.6,79],[11711.4,108],[11712.2,136],[11712.6,164],[11713.1,316],[11713.3,269],[11713.6,146],[11714.2,89],[11715.0,79],[11715.8,89],[11716.5,89],[11717.2,79],[11717.4,108],[11717.8,136],[11718.3,155],[11718.7,183],[11718.9,364],[11719.2,335],[11719.4,117],[11719.8,98],[11720.2,89],[11720.7,146],[11721.1,98],[11721.6,79],[11722.1,70],[11722.6,51],[11723.0,60],[11723.5,89],[11723.8,79],[11724.2,108],[11724.8,70],[11725.4,98],[11726.0,164],[11726.3,123],[11726.7,108],[11727.0,149],[11727.6,108],[11728.1,93],[11728.6,79],[11729.0,89],[11729.4,108],[11730.0,70],[11730.5,136],[11731.0,79],[11731.5,136],[11732.0,89],[11732.6,98],[11733.2,98],[11734.0,null],[11734.8,89],[11735.3,98],[11735.8,89],[11736.4,104],[11737.0,98],[11737.7,117],[11738.3,127],[11738.8,250],[11739.2,149],[11739.7,89],[11740.2,89],[11740.7,79],[11741.2,79],[11741.6,218],[11741.9,155],[11742.3,212],[11742.9,174],[11743.6,164],[11744.3,146],[11744.9,98],[11745.4,79],[11746.0,212],[11746.5,98],[11747.0,60],[11747.4,108],[11747.9,98],[11748.4,111],[11748.9,89],[11749.3,79],[11749.6,98],[11750.0,111]];

const ageTicks = [11.65, 11.66, 11.67, 11.68, 11.69, 11.70, 11.71, 11.72, 11.73, 11.74, 11.75];
const markerAge = 11703; // years b2k

const leftX = 98, rightX = 1264, topY = 57, bottomY = 701;
const grey = "#888888";

const svg = d3.select("#chart");

const x = d3.scaleLinear().domain([11.645, 11.755]).range([leftX, rightX]);

// panel layout: spine extent in px, y domain, tick values, colours
const panels = [
  { data: ngripCond, side: "left",  px: [138, 57],  dom: [0.36, 3.80], ticks: [1, 2, 3], line: "#bdbdbd", lab: "#bbbbbb", site: "NGRIP", unit: [["Cond. (µS/cm)"]] },
  { data: neemCond,  side: "right", px: [197, 116], dom: [0.12, 3.32], ticks: [1, 2, 3], line: "#d2d2d2", lab: "#c4c4c4", site: "NEEM",  unit: [["Cond. (µS/cm)"]] },
  { data: ngripNa,   side: "left",  px: [267, 185], dom: [-5.7, 195.8], ticks: [0, 100], line: "#176ed8", lab: "#1a6fd8", site: "NGRIP", unit: [["Na"], ["+", "sup"], [" (ng/g)"]] },
  { data: neemNa,    side: "right", px: [315, 234], dom: [-5.2, 149.7], ticks: [0, 100], line: "#4596e2", lab: "#1a6fd8", site: "NEEM",  unit: [["Na"], ["+", "sup"], [" (ng/g)"]] },
  { data: ngripCa,   side: "left",  px: [396, 314], dom: [-13.7, 248], ticks: [0, 200],  line: "#ff2626", lab: "#ff2e2e", site: "NGRIP", unit: [["Ca"], ["2+", "sup"], [" (ng/g)"]] },
  { data: neemCa,    side: "right", px: [444, 363], dom: [-12.3, 420.9], ticks: [0, 250], line: "#ff6b6b", lab: "#ff2e2e", site: "NEEM",  unit: [["Ca"], ["2+", "sup"], [" (ng/g)"]] },
  { data: ngripNH4,  side: "left",  px: [523, 443], dom: [-11.5, 388.5], ticks: [0, 250], line: "#1cc41c", lab: "#22c422", site: "NGRIP", unit: [["NH"], ["4", "subsup", "+"], [" (ng/g)"]] },
  { data: neemNH4,   side: "right", px: [573, 492], dom: [-14.3, 299.6], ticks: [0, 200], line: "#5ad35a", lab: "#22c422", site: "NEEM",  unit: [["NH"], ["4", "subsup", "+"], [" (ng/g)"]] },
  { data: ngripNO3,  side: "left",  px: [657, 573], dom: [-40, 520], ticks: [0, 500],    line: "#ff7f0e", lab: "#ff7f0e", site: "NGRIP", unit: [["NO"], ["3", "subsup", "−"], [" (ng/g)"]] },
  { data: neemNO3,   side: "right", px: [701, 621], dom: [13.8, 382.5], ticks: [100, 200, 300], line: "#ffa04f", lab: "#ff7f0e", site: "NEEM", unit: [["NO"], ["3", "subsup", "−"], [" (ng/g)"]] }
];

function styleAxis(g) {
  g.select(".domain").attr("stroke", grey).attr("stroke-width", 1.3);
  g.selectAll(".tick line").attr("stroke", grey).attr("stroke-width", 1.1);
  g.selectAll(".tick text").attr("fill", grey).style("font-size", "14px").style("font-family", "DejaVu Sans");
}

// series lines
panels.forEach(p => {
  const y = d3.scaleLinear().domain(p.dom).range(p.px);
  p.y = y;
  const line = d3.line()
    .defined(d => d[1] !== null)
    .x(d => x(d[0] / 1000))
    .y(d => y(d[1]))
    .curve(d3.curveMonotoneX);
  svg.append("path")
    .datum(p.data)
    .attr("fill", "none")
    .attr("stroke", p.line)
    .attr("stroke-width", 1.5)
    .attr("stroke-linejoin", "round")
    .attr("d", line);
});

// y axes and labels
panels.forEach(p => {
  const isLeft = p.side === "left";
  const ax = (isLeft ? d3.axisLeft(p.y) : d3.axisRight(p.y))
    .tickValues(p.ticks).tickSize(5).tickSizeOuter(0).tickPadding(4)
    .tickFormat(d3.format("d"));
  const g = svg.append("g")
    .attr("transform", `translate(${isLeft ? leftX : rightX},0)`)
    .call(ax);
  styleAxis(g);

  let maxW = 0;
  g.selectAll(".tick text").each(function () { maxW = Math.max(maxW, this.getComputedTextLength()); });

  const cy = (p.px[0] + p.px[1]) / 2;
  let x1, x2;
  if (isLeft) {
    x2 = leftX - 9 - maxW - 16;
    x1 = x2 - 17;
  } else {
    x1 = rightX + 9 + maxW + 12;
    x2 = x1 + (p.unit.length > 1 ? 19 : 17);
  }

  svg.append("text")
    .attr("transform", `translate(${x1},${cy}) rotate(-90)`)
    .attr("text-anchor", "middle").attr("dy", "0.35em")
    .style("font-size", "14px").attr("fill", p.lab)
    .text(p.site);

  const t = svg.append("text")
    .attr("transform", `translate(${x2},${cy}) rotate(-90)`)
    .attr("text-anchor", "middle").attr("dy", "0.35em")
    .style("font-size", "14px").attr("fill", p.lab);
  // base text, superscript / stacked sub+superscript; the next run restores the baseline
  let back = 0;
  p.unit.forEach(part => {
    const [txt, kind, extra] = part;
    if (!kind) {
      const s = t.append("tspan").text(txt);
      if (back) s.attr("dy", back + "em");
      back = 0;
    } else if (kind === "sup") {
      t.append("tspan").attr("dy", "-0.45em").style("font-size", "10px").text(txt);
      back = 0.45 * 10 / 14;
    } else if (kind === "subsup") {
      t.append("tspan").attr("dy", "0.3em").style("font-size", "10px").text(txt);
      t.append("tspan").attr("dx", "-6.4").attr("dy", "-0.8em").style("font-size", "10px").text(extra);
      back = 0.5 * 10 / 14;
    }
  });
});

// top and bottom age axes
const minorTicks = d3.range(11646, 11756, 2).filter(v => v % 10 !== 0).map(v => v / 1000);

const topG = svg.append("g").attr("transform", `translate(0,${topY})`)
  .call(d3.axisTop(x).tickValues(ageTicks).tickSize(6).tickSizeOuter(0).tickPadding(5).tickFormat(d3.format(".2f")));
styleAxis(topG);
const topMinor = svg.append("g").attr("transform", `translate(0,${topY})`)
  .call(d3.axisTop(x).tickValues(minorTicks).tickSize(3).tickSizeOuter(0));
styleAxis(topMinor);
topMinor.selectAll(".tick text").remove();

const botG = svg.append("g").attr("transform", `translate(0,${bottomY})`)
  .call(d3.axisBottom(x).tickValues(ageTicks).tickSize(6).tickSizeOuter(0).tickPadding(4).tickFormat(d3.format(".2f")));
styleAxis(botG);
const botMinor = svg.append("g").attr("transform", `translate(0,${bottomY})`)
  .call(d3.axisBottom(x).tickValues(minorTicks).tickSize(3).tickSizeOuter(0));
styleAxis(botMinor);
botMinor.selectAll(".tick text").remove();

svg.append("text").attr("x", x(11.70)).attr("y", 25)
  .attr("text-anchor", "middle").style("font-size", "14px").attr("fill", grey)
  .text("GICC05 age (ka b2k)");
svg.append("text").attr("x", x(11.70)).attr("y", 742)
  .attr("text-anchor", "middle").style("font-size", "14px").attr("fill", grey)
  .text("GICC05 age (ka b2k)");

// event marker on both age axes
const mx = x(markerAge / 1000);
svg.append("line").attr("x1", mx).attr("x2", mx).attr("y1", topY).attr("y2", topY + 17)
  .attr("stroke", grey).attr("stroke-width", 3);
svg.append("line").attr("x1", mx).attr("x2", mx).attr("y1", bottomY - 16).attr("y2", bottomY)
  .attr("stroke", grey).attr("stroke-width", 3);
</script>
</body>
</html>
